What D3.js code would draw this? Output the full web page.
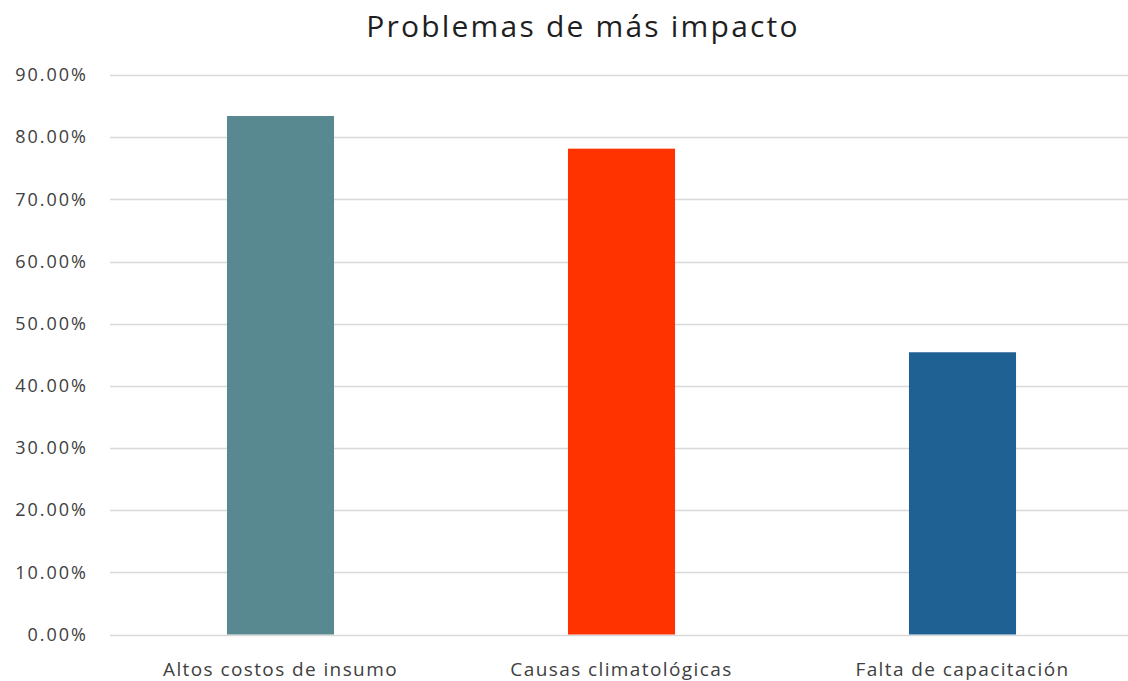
<!DOCTYPE html>
<html>
<head>
<meta charset="utf-8">
<script src="https://cdn.jsdelivr.net/npm/d3@7"></script>
<style>
  html, body { margin: 0; padding: 0; background: #fff; }
  svg { display: block; font-family: "Open Sans", sans-serif; }
</style>
</head>
<body>
<svg id="chart" width="1128" height="681"></svg>
<script>
// Chart data
const categories = ["Altos costos de insumo", "Causas climatológicas", "Falta de capacitación"];
const values = [0.8340, 0.7815, 0.4540];
const barColors = ["#588890", "#ff3300", "#1f6193"];
const yTicks = [0, 0.1, 0.2, 0.3, 0.4, 0.5, 0.6, 0.7, 0.8, 0.9];
const title = "Problemas de más impacto";

const svg = d3.select("#chart");

const x = d3.scaleBand()
  .domain(categories)
  .range([110, 1133])
  .paddingInner(0.686)
  .paddingOuter(0.343);

const y = d3.scaleLinear()
  .domain([0, 0.9])
  .range([634.5, 75]);

// Gridlines
svg.append("g")
  .selectAll("line")
  .data(yTicks)
  .join("line")
  .attr("x1", 110)
  .attr("x2", 1133)
  .attr("y1", d => Math.round(y(d)) + 0.5)
  .attr("y2", d => Math.round(y(d)) + 0.5)
  .attr("stroke", "#d9d9d9")
  .attr("stroke-width", 1.3);

// Y axis labels
const yAxis = d3.axisLeft(y)
  .tickValues(yTicks)
  .tickFormat(d => (d * 100).toFixed(2) + "%")
  .tickSize(0)
  .tickPadding(0);

svg.append("g")
  .attr("transform", "translate(88,0)")
  .call(yAxis)
  .call(g => g.select(".domain").remove())
  .call(g => g.selectAll("text")
    .attr("fill", "#404040")
    .style("font-family", "'Open Sans', sans-serif")
    .style("font-size", "18px")
    .style("letter-spacing", "2px"));

// Bars
svg.append("g")
  .selectAll("rect")
  .data(values)
  .join("rect")
  .attr("x", (d, i) => x(categories[i]))
  .attr("width", x.bandwidth())
  .attr("y", d => y(d))
  .attr("height", d => y(0) - y(d))
  .attr("fill", (d, i) => barColors[i]);

// X axis labels
const xAxis = d3.axisBottom(x).tickSize(0).tickPadding(0);
svg.append("g")
  .attr("transform", "translate(0,662.5)")
  .call(xAxis)
  .call(g => g.select(".domain").remove())
  .call(g => g.selectAll("text")
    .attr("fill", "#404040")
    .style("font-family", "'Open Sans', sans-serif")
    .style("font-size", "19px")
    .style("letter-spacing", "1.4px"));

// Title
svg.append("text")
  .attr("x", 583)
  .attr("y", 37)
  .attr("text-anchor", "middle")
  .attr("fill", "#1f1f1f")
  .style("font-family", "'Open Sans', sans-serif")
  .style("font-size", "30px")
  .style("letter-spacing", "2.2px")
  .text(title);
</script>
</body>
</html>
